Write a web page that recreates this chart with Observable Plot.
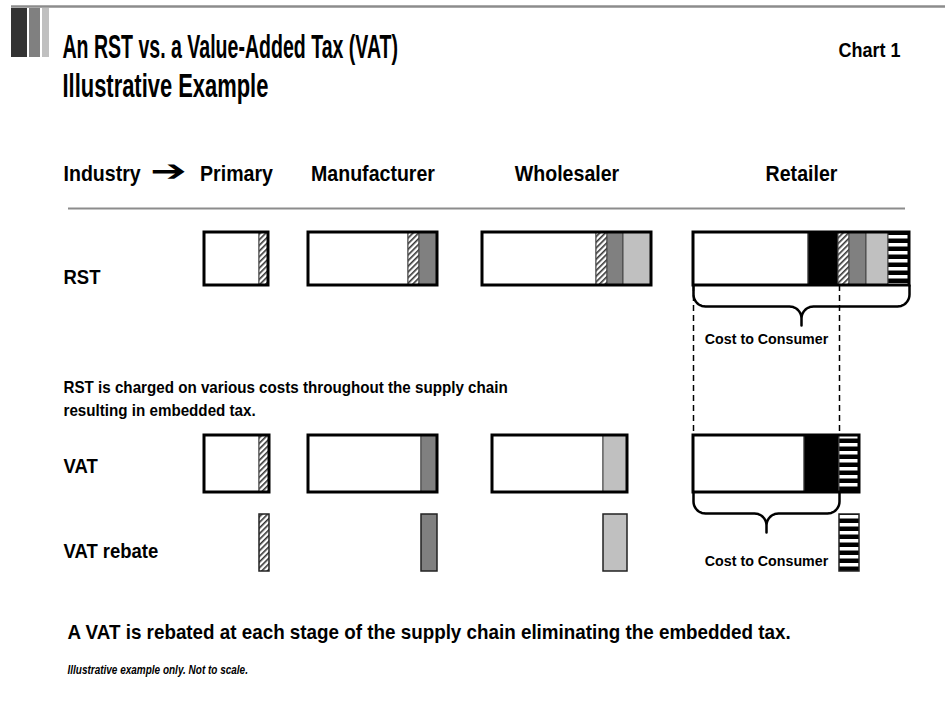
<!DOCTYPE html>
<html>
<head>
<meta charset="utf-8">
<script src="https://cdn.jsdelivr.net/npm/d3@7"></script>
<script src="https://cdn.jsdelivr.net/npm/@observablehq/plot@0.6"></script>
<style>
  html, body { margin: 0; padding: 0; background: #fff; }
  #chart svg { display: block; }
</style>
</head>
<body>
<div id="chart"></div>
<script>
// ---------------- DATA ----------------
const stages = ["Primary", "Manufacturer", "Wholesaler", "Retailer"];
const components = ["cost", "retailMargin", "primaryTax", "manufacturerTax", "wholesalerTax", "retailTax"];

// RST row: box start of each stage and width of every component (diagram units)
const rstStart          = [204, 308, 482, 693];
const rstCost           = [55, 100, 114, 115];
const rstRetailMargin   = [0, 0, 0, 30];
const rstPrimaryTax     = [9, 11, 11, 11];
const rstManufacturerTax= [0, 18, 16, 17];
const rstWholesalerTax  = [0, 0, 28, 22];
const rstRetailTax      = [0, 0, 0, 21];

// VAT row
const vatStart          = [204, 308, 492, 693];
const vatCost           = [55, 113, 111, 111];
const vatRetailMargin   = [0, 0, 0, 35];
const vatPrimaryTax     = [10, 0, 0, 0];
const vatManufacturerTax= [0, 16, 0, 0];
const vatWholesalerTax  = [0, 0, 24, 0];
const vatRetailTax      = [0, 0, 0, 20];

// VAT rebate: each stage gets back its own tax
const rebateComponent = ["primaryTax", "manufacturerTax", "wholesalerTax", "retailTax"];

// rows (vertical extent in diagram units)
const rowNames  = ["RST", "VAT", "VAT rebate"];
const rowTop    = [232, 435, 514];
const rowBottom = [285, 492, 571];

// texts
const titleLines  = ["An RST vs. a Value-Added Tax (VAT)", "Illustrative Example"];
const chartLabel  = "Chart 1";
const headerLabel = "Industry";
const arrowGlyph  = "\u2794";
const rstNote     = ["RST is charged on various costs throughout the supply chain", "resulting in embedded tax."];
const costLabel   = "Cost to Consumer";
const vatNote     = "A VAT is rebated at each stage of the supply chain eliminating the embedded tax.";
const footnote    = "Illustrative example only. Not to scale.";

// ---------------- STYLE / LAYOUT ----------------
const W = 945, H = 710;
const FONT = "'Liberation Sans', Arial, sans-serif";
const fills = {
  cost: "white", retailMargin: "black", primaryTax: "url(#hatch)",
  manufacturerTax: "#808080", wholesalerTax: "#c0c0c0", retailTax: "url(#stripes)"
};
const L = {
  titleX: 62, titleY: [57, 96],
  chartX: 838, chartY: 56,
  headY: 180, leftX: 63, arrowX: 168,
  labelY: [283, 472, 557],
  noteY: [392, 415],
  costY: [343, 565],
  vatNoteX: 67, vatNoteY: 638,
  footY: 673,
  topRuleY: 6, headRuleY: 208, headRuleX: [68, 905],
  braceDepth: 21, braceCusp: 19, braceR: 12
};

// ---------------- BUILD SEGMENTS ----------------
function buildRow(row, starts, parts) {
  const segs = [], boxes = [];
  stages.forEach((stage, i) => {
    let x = starts[i];
    components.forEach((c, k) => {
      const w = parts[k][i];
      if (w > 0) { segs.push({row, stage, comp: c, x1: x, x2: x + w, y1: rowTop[row], y2: rowBottom[row]}); x += w; }
    });
    boxes.push({row, stage, x1: starts[i], x2: x, y1: rowTop[row], y2: rowBottom[row]});
  });
  return {segs, boxes};
}
const rst = buildRow(0, rstStart, [rstCost, rstRetailMargin, rstPrimaryTax, rstManufacturerTax, rstWholesalerTax, rstRetailTax]);
const vat = buildRow(1, vatStart, [vatCost, vatRetailMargin, vatPrimaryTax, vatManufacturerTax, vatWholesalerTax, vatRetailTax]);
const rebates = stages.map((stage, i) => {
  const s = vat.segs.find(d => d.stage === stage && d.comp === rebateComponent[i]);
  return {stage, comp: s.comp, x1: s.x1, x2: s.x2, y1: rowTop[2], y2: rowBottom[2]};
});
const allSegs = rst.segs.concat(vat.segs);

// braces
const rstRetail = rst.boxes[3];
const vatRetailTaxSeg = vat.segs.find(d => d.stage === "Retailer" && d.comp === "retailTax");
const braces = [
  {x1: rstRetail.x1, x2: rstRetail.x2, y0: rstRetail.y2},
  {x1: vat.boxes[3].x1, x2: vatRetailTaxSeg.x1, y0: vat.boxes[3].y2}
];
function bracePoints(b) {
  const {x1, x2, y0} = b, r = L.braceR, yh = y0 + L.braceDepth, cx = (x1 + x2) / 2;
  const pts = [[x1, y0]];
  const arc = (ax, ay, a0, a1) => { for (let i = 0; i <= 10; i++) { const a = a0 + (a1 - a0) * i / 10; pts.push([ax + r * Math.cos(a), ay + r * Math.sin(a)]); } };
  arc(x1 + r, yh - r, Math.PI, Math.PI / 2);
  arc(cx - r, yh + r, -Math.PI / 2, 0);
  pts.push([cx, yh + L.braceCusp]);
  arc(cx + r, yh + r, Math.PI, 1.5 * Math.PI);
  arc(x2 - r, yh - r, Math.PI / 2, 0);
  pts.push([x2, y0]);
  return pts.map(p => ({x: p[0], y: p[1], id: b.x1 + "-" + b.x2}));
}
const bracePts = braces.flatMap(bracePoints);
const costCenter = (braces[1].x1 + braces[1].x2) / 2;

// dashed guide lines from RST retail box down to VAT retail box
const guides = [{x: rstRetail.x1}, {x: vatRetailTaxSeg.x1}];

// header labels centred on RST boxes
const headers = rst.boxes.map((b, i) => ({text: stages[i], x: (b.x1 + b.x2) / 2}));

// decoration blocks at top-left
const deco = [
  {x1: 11, x2: 27, fill: "#333333"},
  {x1: 29, x2: 40, fill: "#808080"},
  {x1: 42, x2: 49, fill: "#c0c0c0"}
];

// text helper: k = horizontal condensing factor (to mimic a condensed typeface)
const textK = [];
const txt = (data, opts, k = 1) => {
  textK.push(k);
  return Plot.text(data, Object.assign({fontFamily: FONT, fontWeight: "bold", lineAnchor: "bottom", fill: "black"}, opts));
};

const plot = Plot.plot({
  width: W, height: H, margin: 0,
  x: {domain: [0, W], range: [0, W], axis: null},
  y: {domain: [0, H], range: [0, H], axis: null},
  style: {background: "white", color: "black", overflow: "visible"},
  marks: [
    // top rule + deco
    Plot.ruleY([L.topRuleY], {x1: deco[0].x1, x2: W, stroke: "#8c8c8c", strokeWidth: 2.5}),
    Plot.rect(deco, {x1: "x1", x2: "x2", y1: 8, y2: 57, fill: "fill"}),
    // header rule
    Plot.ruleY([L.headRuleY], {x1: L.headRuleX[0], x2: L.headRuleX[1], stroke: "#8c8c8c", strokeWidth: 2}),
    // segments, one mark per component
    ...components.map(c => Plot.rect(allSegs.filter(d => d.comp === c), {x1: "x1", x2: "x2", y1: "y1", y2: "y2", fill: fills[c], stroke: "#444", strokeWidth: 1})),
    // outer boxes
    Plot.rect(rst.boxes.concat(vat.boxes), {x1: "x1", x2: "x2", y1: "y1", y2: "y2", fill: "none", stroke: "black", strokeWidth: 3}),
    // rebates
    ...components.map(c => Plot.rect(rebates.filter(d => d.comp === c), {x1: "x1", x2: "x2", y1: "y1", y2: "y2", fill: fills[c], stroke: "#222", strokeWidth: 1.5})),
    // braces
    Plot.line(bracePts, {x: "x", y: "y", z: "id", stroke: "black", strokeWidth: 2.5, curve: "linear"}),
    // dashed guides
    Plot.ruleX(guides, {x: "x", y1: rowBottom[0], y2: rowTop[1], stroke: "black", strokeWidth: 1.5, strokeDasharray: "6,4"}),
    // title
    txt(titleLines, {x: L.titleX, y: (d, i) => L.titleY[i], text: d => d, textAnchor: "start", fontSize: 34}, [0.575, 0.645]),
    txt([chartLabel], {x: L.chartX, y: L.chartY, text: d => d, textAnchor: "start", fontSize: 20}, 0.9),
    // header
    txt([headerLabel], {x: L.leftX, y: L.headY, text: d => d, textAnchor: "start", fontSize: 22}, 0.89),
    txt([arrowGlyph], {x: L.arrowX, y: L.headY, text: d => d, textAnchor: "middle", fontSize: 30, fontFamily: "DejaVu Sans", fontWeight: "normal"}, 1.45),
    txt(headers, {x: "x", y: L.headY, text: "text", textAnchor: "middle", fontSize: 22}, 0.89),
    // row labels
    txt(rowNames, {x: L.leftX, y: (d, i) => L.labelY[i], text: d => d, textAnchor: "start", fontSize: 21}, 0.88),
    // notes
    txt(rstNote, {x: L.leftX, y: (d, i) => L.noteY[i], text: d => d, textAnchor: "start", fontSize: 16.5}, 0.92),
    txt([costLabel, costLabel], {x: costCenter, y: (d, i) => L.costY[i], text: d => d, textAnchor: "middle", fontSize: 15.5}, 0.92),
    txt([vatNote], {x: L.vatNoteX, y: L.vatNoteY, text: d => d, textAnchor: "start", fontSize: 20.8}, 0.905),
    txt([footnote], {x: L.vatNoteX, y: L.footY, text: d => d, textAnchor: "start", fontSize: 12.5, fontStyle: "italic"}, 0.8)
  ]
});

// condense text horizontally around its anchor
d3.select(plot).selectAll('g[aria-label="text"]').each(function(_, i) {
  const kk = textK[i];
  d3.select(this).selectAll("text").each(function(_, j) {
    const k = Array.isArray(kk) ? kk[j] : kk;
    if (!k || k === 1) return;
    const t = d3.select(this);
    const tr = t.attr("transform") || "";
    const x = +t.attr("x") || 0;
    t.attr("transform", `${tr} translate(${x},0) scale(${k},1) translate(${-x},0)`);
  });
});

// patterns for hatched and striped fills
const defs = d3.select(plot).insert("defs", ":first-child");
const hatch = defs.append("pattern").attr("id", "hatch").attr("patternUnits", "userSpaceOnUse")
  .attr("width", 4).attr("height", 4).attr("patternTransform", "rotate(45)");
hatch.append("rect").attr("width", 4).attr("height", 4).attr("fill", "white");
hatch.append("rect").attr("width", 1.6).attr("height", 4).attr("fill", "#333");
const stripes = defs.append("pattern").attr("id", "stripes").attr("patternUnits", "userSpaceOnUse")
  .attr("width", 8).attr("height", 8);
stripes.append("rect").attr("width", 8).attr("height", 8).attr("fill", "black");
stripes.append("rect").attr("y", 3).attr("width", 8).attr("height", 3.5).attr("fill", "white");

document.getElementById("chart").appendChild(plot);
</script>
</body>
</html>
